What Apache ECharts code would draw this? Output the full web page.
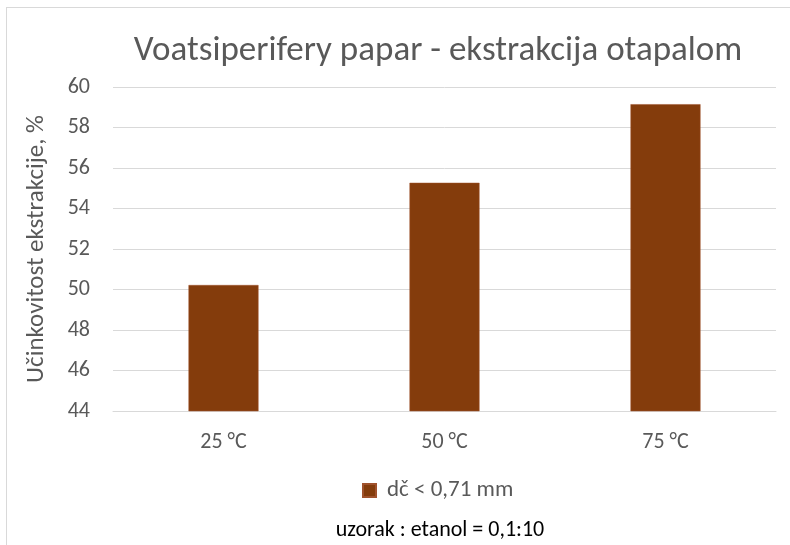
<!DOCTYPE html>
<html>
<head>
<meta charset="utf-8">
<script src="https://cdn.jsdelivr.net/npm/echarts@6/dist/echarts.min.js"></script>
<style>
  html, body { margin: 0; padding: 0; background: #fff; }
  #frame {
    position: absolute; left: 6px; top: 7px; width: 800px; height: 560px;
    border: 1px solid #d9d9d9; box-sizing: border-box;
  }
  #chart { position: absolute; left: 0; top: 0; width: 790px; height: 545px; }
</style>
</head>
<body>
<div id="frame"></div>
<div id="chart"></div>
<script>
// podaci s grafa
const categories = ['25 °C', '50 °C', '75 °C'];
const seriesName = 'dč < 0,71 mm';
const efficiency = [50.22, 55.27, 59.15];
const yTicks = { min: 44, max: 60, step: 2 };

const fontFam = 'Carlito, Lato, "Open Sans", sans-serif';
const textGray = '#595959';

var myChart = echarts.init(document.getElementById('chart'));
var option = {
    backgroundColor: 'transparent',
    animation: false,
    title: [{
        text: 'Voatsiperifery papar - ekstrakcija otapalom',
        left: 433, top: 29, textAlign: 'center',
        textStyle: { fontFamily: fontFam, fontSize: 35, fontWeight: 'normal', color: textGray }
    }, {
        text: 'uzorak : etanol = 0,1:10',
        left: 435, top: 514, textAlign: 'center',
        textStyle: { fontFamily: fontFam, fontSize: 22, fontWeight: 'normal', color: '#000' }
    }],
    legend: {
        data: [seriesName],
        left: 357, top: 474,
        icon: 'rect', itemWidth: 13, itemHeight: 13, itemGap: 8,
        textStyle: { fontFamily: fontFam, fontSize: 23, color: textGray, padding: [0, 0, 0, 6] }
    },
    grid: { left: 113, right: 14, top: 87, bottom: 134 },
    xAxis: {
        type: 'category',
        data: categories,
        axisLine: { lineStyle: { color: '#d9d9d9', width: 1 } },
        axisTick: { show: false },
        axisLabel: { fontFamily: fontFam, fontSize: 22, color: textGray, margin: 20 }
    },
    yAxis: {
        type: 'value',
        min: yTicks.min, max: yTicks.max, interval: yTicks.step,
        name: 'Učinkovitost ekstrakcije, %',
        nameLocation: 'middle', nameGap: 64, nameRotate: 90,
        nameTextStyle: { fontFamily: fontFam, fontSize: 25, color: textGray },
        axisLine: { show: false },
        axisTick: { show: false },
        axisLabel: { fontFamily: fontFam, fontSize: 22, color: textGray, margin: 23 },
        splitLine: { lineStyle: { color: '#d9d9d9', width: 1 } }
    },
    series: [{
        name: seriesName,
        type: 'bar',
        data: efficiency,
        barWidth: 70,
        itemStyle: { color: '#843c0c', borderColor: '#a0522d', borderWidth: 0.5 }
    }]
};
myChart.setOption(option);
</script>
</body>
</html>
